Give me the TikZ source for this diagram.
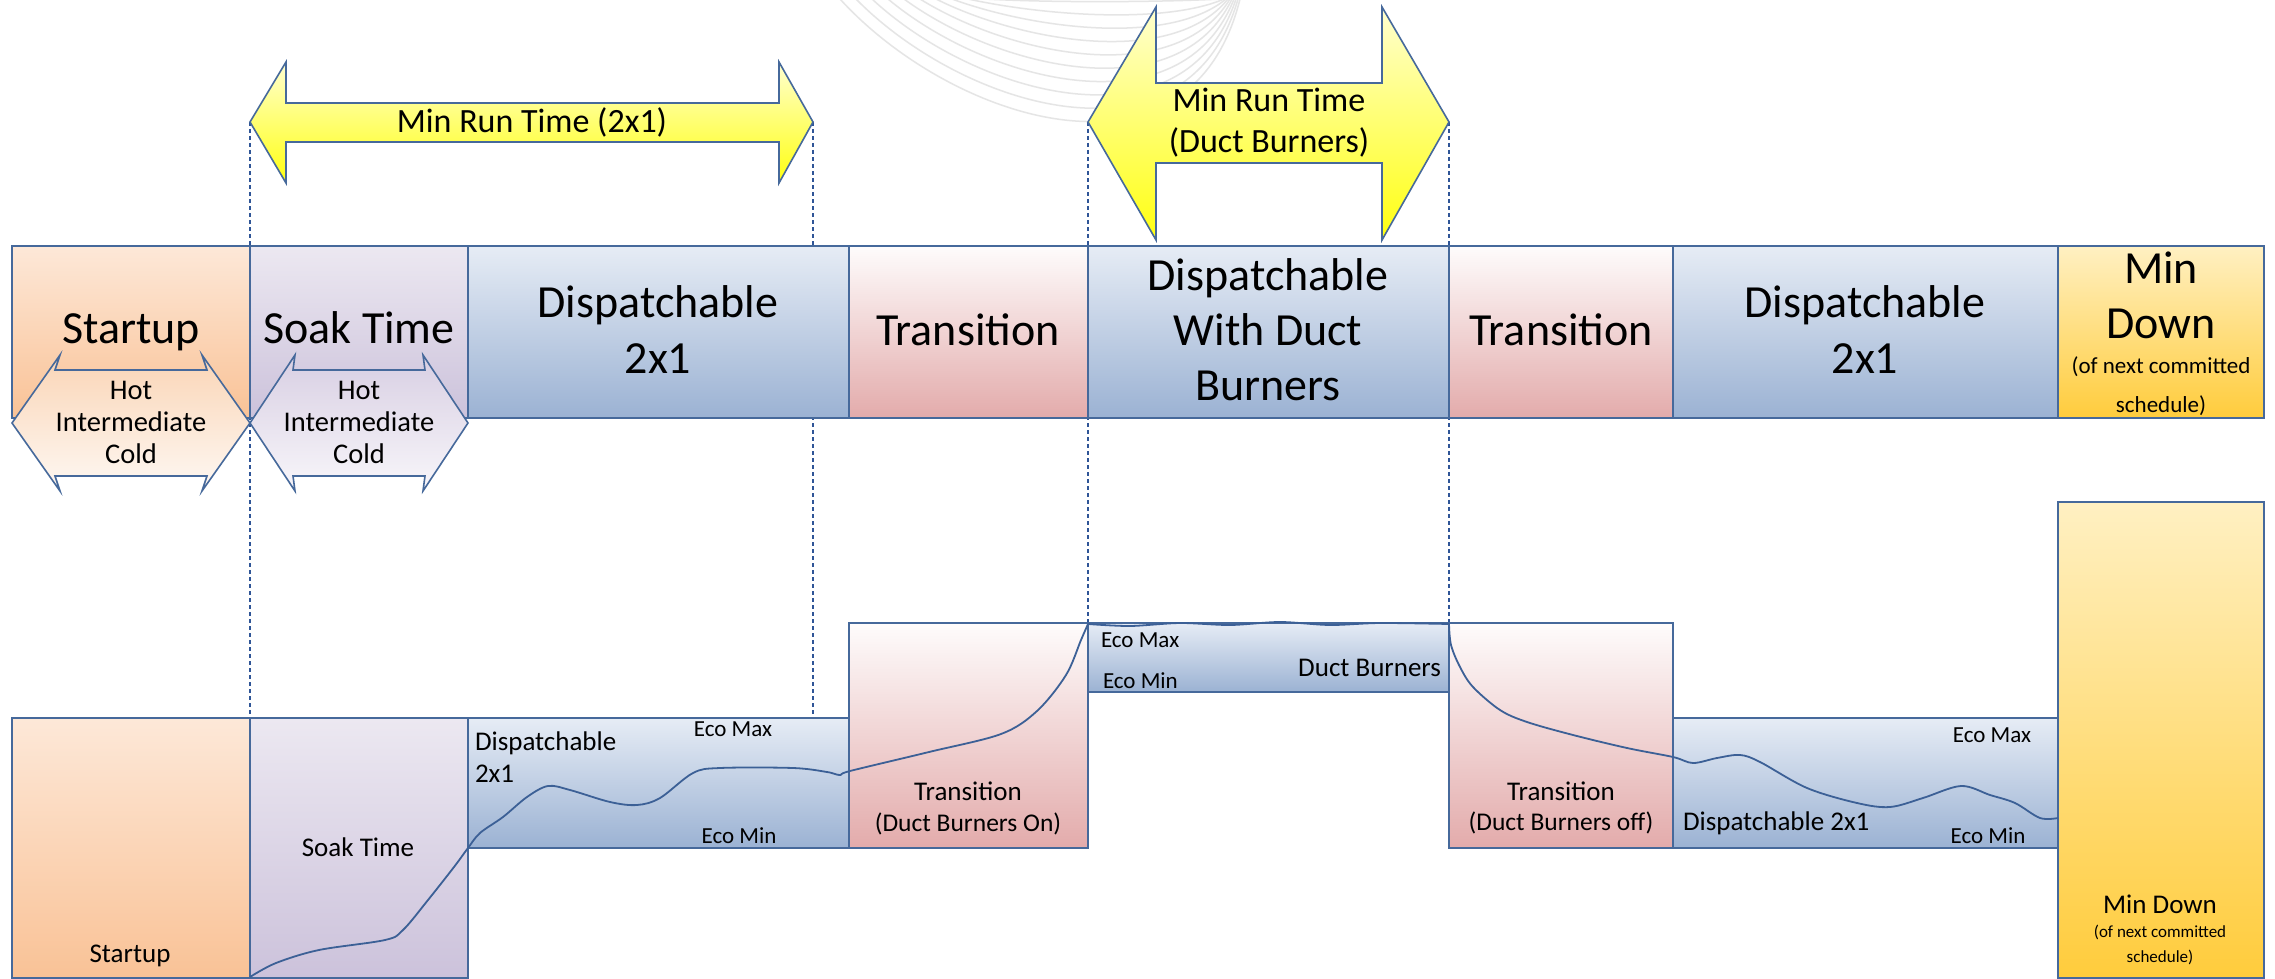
\documentclass[tikz,border=0pt]{standalone}
\usepackage{fontspec}
\setmainfont{Carlito}
\definecolor{bordc}{HTML}{46699B}
\definecolor{dashc}{HTML}{2F5597}
\definecolor{curvc}{HTML}{3C6096}
\definecolor{orT}{HTML}{FDE8D8}\definecolor{orB}{HTML}{F9C296}
\definecolor{puT}{HTML}{ECE8F1}\definecolor{puB}{HTML}{CCC2DB}
\definecolor{blT}{HTML}{E6ECF5}\definecolor{blB}{HTML}{9BB2D3}
\definecolor{pkT}{HTML}{FEFCFC}\definecolor{pkB}{HTML}{E3ABAB}
\definecolor{ylT}{HTML}{FFF0C2}\definecolor{ylB}{HTML}{FFCC3C}
\definecolor{arT}{HTML}{FFFFD0}\definecolor{arB}{HTML}{FFFF10}
\definecolor{soT}{HTML}{FAD5B6}\definecolor{soB}{HTML}{FEF8F3}
\definecolor{spT}{HTML}{D8CFE3}\definecolor{spB}{HTML}{F8F6FA}
\newcommand\FtBig{\fontsize{46}{55}\selectfont}
\newcommand\FtArr{\fontsize{34}{41}\selectfont}
\newcommand\FtHot{\fontsize{28.5}{32}\selectfont}
\newcommand\FtLow{\fontsize{27}{32}\selectfont}
\newcommand\FtTr{\fontsize{25.5}{31}\selectfont}
\newcommand\FtEco{\fontsize{23}{28}\selectfont}
\newcommand\FtSm{\fontsize{23}{28}\selectfont}
\newcommand\FtXs{\fontsize{17}{21}\selectfont}
\tikzset{
  box/.style={draw=bordc, line width=2pt, inner sep=0pt, outer sep=0pt, anchor=north west, rectangle},
  lab/.style={anchor=base, inner sep=0pt, outer sep=0pt, text=black},
  guide/.style={draw=dashc, line width=1.8pt, dash pattern=on 4pt off 3pt},
  curve/.style={draw=curvc, line width=1.8pt, line join=round},
  yarrow/.style={draw=bordc, line width=1.6pt, top color=arT, bottom color=arB, line join=miter},
  wm/.style={draw=black!10, line width=1.5pt}
}
\begin{document}
\begin{tikzpicture}[x=1pt,y=-1pt]
\useasboundingbox (0,0) rectangle (2275,979);
\fill[white] (0,0) rectangle (2275,979);
% faint watermark arcs
\begin{scope}
\clip (0,0) rectangle (2275,979);
\foreach \i in {0,...,9} {
  \draw[wm] ({840+16*\i},-1) .. controls ({950+12*\i},{120-13*\i}) and ({1190-3*\i},{200-22*\i}) .. ({1240-2*\i},-1);
}
\end{scope}
% guide lines
\coordinate (gA1) at (250,122); \coordinate (gA2) at (250,718);
\coordinate (gB1) at (813,122); \coordinate (gB2) at (813,718);
\coordinate (gC1) at (1088,122); \coordinate (gC2) at (1088,623);
\coordinate (gD1) at (1449,122); \coordinate (gD2) at (1449,623);
\draw[guide] (gA1) -- (gA2);
\draw[guide] (gB1) -- (gB2);
\draw[guide] (gC1) -- (gC2);
\draw[guide] (gD1) -- (gD2);
% top band
\node[box, top color=orT, bottom color=orB, minimum width=238pt, minimum height=172pt] (tStart) at (12,246) {};
\node[box, top color=puT, bottom color=puB, minimum width=218pt, minimum height=172pt] (tSoak) at (250,246) {};
\node[box, top color=blT, bottom color=blB, minimum width=381pt, minimum height=172pt] (tDisp) at (468,246) {};
\node[box, top color=pkT, bottom color=pkB, minimum width=239pt, minimum height=172pt] (tTrA) at (849,246) {};
\node[box, top color=blT, bottom color=blB, minimum width=361pt, minimum height=172pt] (tDuct) at (1088,246) {};
\node[box, top color=pkT, bottom color=pkB, minimum width=224pt, minimum height=172pt] (tTrB) at (1449,246) {};
\node[box, top color=blT, bottom color=blB, minimum width=385pt, minimum height=172pt] (tDisp2) at (1673,246) {};
\node[box, top color=ylT, bottom color=ylB, minimum width=206pt, minimum height=172pt] (tMin) at (2058,246) {};
% small double arrows
\shade[draw=bordc, line width=1.6pt, top color=soT, bottom color=soB]
  (12,423) -- (60,355) -- (55,370) -- (207,370) -- (202,355) -- (250,423) -- (202,491) -- (207,476) -- (55,476) -- (60,491) -- cycle;
\shade[draw=bordc, line width=1.6pt, top color=spT, bottom color=spB]
  (250,423) -- (295,355) -- (293,370) -- (425,370) -- (423,355) -- (468,423) -- (423,491) -- (425,476) -- (293,476) -- (295,491) -- cycle;
% yellow arrows
\shade[yarrow] (250,122) -- (286,62) -- (286,103) -- (779,103) -- (779,62) -- (813,122) -- (779,183) -- (779,142) -- (286,142) -- (286,183) -- cycle;
\shade[yarrow] (1088,122) -- (1156,7) -- (1156,83) -- (1382,83) -- (1382,7) -- (1449,122) -- (1382,240) -- (1382,163) -- (1156,163) -- (1156,240) -- cycle;
% top texts
\node[lab, font=\FtArr] (arA) at (532,133) {Min Run Time (2x1)};
\node[lab, font=\FtArr] (arB1) at (1269,112) {Min Run Time};
\node[lab, font=\FtArr] (arB2) at (1269,153) {(Duct Burners)};
\node[lab, font=\FtBig] (tStartL) at (131,343) {Startup};
\node[lab, font=\FtBig] (tSoakL) at (359,343) {Soak Time};
\node[lab, font=\FtBig] (tDispL1) at (658,317) {Dispatchable};
\node[lab, font=\FtBig] (tDispL2) at (658,373) {2x1};
\node[lab, font=\FtBig] (tTrAL) at (968,345) {Transition};
\node[lab, font=\FtBig] (tDuctL1) at (1268,290) {Dispatchable};
\node[lab, font=\FtBig] (tDuctL2) at (1268,345) {With Duct};
\node[lab, font=\FtBig] (tDuctL3) at (1268,400) {Burners};
\node[lab, font=\FtBig] (tTrBL) at (1561,345) {Transition};
\node[lab, font=\FtBig] (tDisp2L1) at (1865,317) {Dispatchable};
\node[lab, font=\FtBig] (tDisp2L2) at (1865,373) {2x1};
\node[lab, font=\FtBig] (tMinL1) at (2161,283) {Min};
\node[lab, font=\FtBig] (tMinL2) at (2161,338) {Down};
\node[lab, font=\FtSm] (tMinL3) at (2161,373) {(of next committed};
\node[lab, font=\FtSm] (tMinL4) at (2161,412) {schedule)};
\node[lab, font=\FtHot] (hA1) at (131,399) {Hot};
\node[lab, font=\FtHot] (hA2) at (131,431) {Intermediate};
\node[lab, font=\FtHot] (hA3) at (131,463) {Cold};
\node[lab, font=\FtHot] (hB1) at (359,399) {Hot};
\node[lab, font=\FtHot] (hB2) at (359,431) {Intermediate};
\node[lab, font=\FtHot] (hB3) at (359,463) {Cold};
% lower boxes
\node[box, top color=orT, bottom color=orB, minimum width=238pt, minimum height=260pt] (lStart) at (12,718) {};
\node[box, top color=puT, bottom color=puB, minimum width=218pt, minimum height=260pt] (lSoak) at (250,718) {};
\node[box, top color=blT, bottom color=blB, minimum width=381pt, minimum height=130pt] (lDisp) at (468,718) {};
\node[box, top color=pkT, bottom color=pkB, minimum width=239pt, minimum height=225pt] (lTrA) at (849,623) {};
\node[box, top color=blT, bottom color=blB, minimum width=361pt, minimum height=69pt] (lDuct) at (1088,623) {};
\node[box, top color=pkT, bottom color=pkB, minimum width=224pt, minimum height=225pt] (lTrB) at (1449,623) {};
\node[box, top color=blT, bottom color=blB, minimum width=385pt, minimum height=130pt] (lDisp2) at (1673,718) {};
\node[box, top color=ylT, bottom color=ylB, minimum width=206pt, minimum height=476pt] (lMin) at (2058,502) {};
% output curves
\draw[curve] plot[smooth, tension=0.55] coordinates {(250,977) (276,963) (319,950) (385,940) (403,930) (428,900) (454,867) (468,848) (480,833) (503,817) (527,797) (548,786) (570,790) (610,802) (637,805) (660,798) (693,773) (720,768) (793,768) (827,772) (840,775) (850,771) (929,752) (1001,734) (1037,711) (1066,675) (1081,640) (1088,624)};
\draw[curve] plot[smooth, tension=0.5] coordinates {(1088,624) (1130,626) (1180,623) (1230,625) (1280,622) (1330,625) (1380,623) (1449,624)};
\draw[curve] plot[smooth, tension=0.55] coordinates {(1449,624) (1451,645) (1460,667) (1473,687) (1500,710) (1527,722) (1573,735) (1627,748) (1673,757) (1693,763) (1717,758) (1740,755) (1760,762) (1807,788) (1857,803) (1890,807) (1923,798) (1961,786) (1990,795) (2015,803) (2040,818) (2058,818)};
% lower texts
\node[lab, font=\FtLow] (lStartL) at (130,962) {Startup};
\node[lab, font=\FtLow] (lSoakL) at (358,856) {Soak Time};
\node[lab, font=\FtLow, anchor=base west] (lDispL1) at (475,750) {Dispatchable};
\node[lab, font=\FtLow, anchor=base west] (lDispL2) at (475,782) {2x1};
\node[lab, font=\FtEco] (lDispMax) at (733,736) {Eco Max};
\node[lab, font=\FtEco] (lDispMin) at (739,843) {Eco Min};
\node[lab, font=\FtLow] (lTrAL1) at (968,800) {Transition};
\node[lab, font=\FtTr] (lTrAL2) at (968,831) {(Duct Burners On)};
\node[lab, font=\FtEco, anchor=base west] (lDuctMax) at (1101,647) {Eco Max};
\node[lab, font=\FtEco, anchor=base west] (lDuctMin) at (1103,688) {Eco Min};
\node[lab, font=\FtLow, anchor=base east] (lDuctDB) at (1441,676) {Duct Burners};
\node[lab, font=\FtLow] (lTrBL1) at (1561,800) {Transition};
\node[lab, font=\FtTr] (lTrBL2) at (1561,830) {(Duct Burners off)};
\node[lab, font=\FtLow, anchor=base west] (lDisp2L) at (1683,830) {Dispatchable 2x1};
\node[lab, font=\FtEco] (lDisp2Max) at (1992,742) {Eco Max};
\node[lab, font=\FtEco] (lDisp2Min) at (1988,843) {Eco Min};
\node[lab, font=\FtLow] (lMinL1) at (2160,913) {Min Down};
\node[lab, font=\FtXs] (lMinL2) at (2160,937) {(of next committed};
\node[lab, font=\FtXs] (lMinL3) at (2160,962) {schedule)};
\end{tikzpicture}
\end{document}
